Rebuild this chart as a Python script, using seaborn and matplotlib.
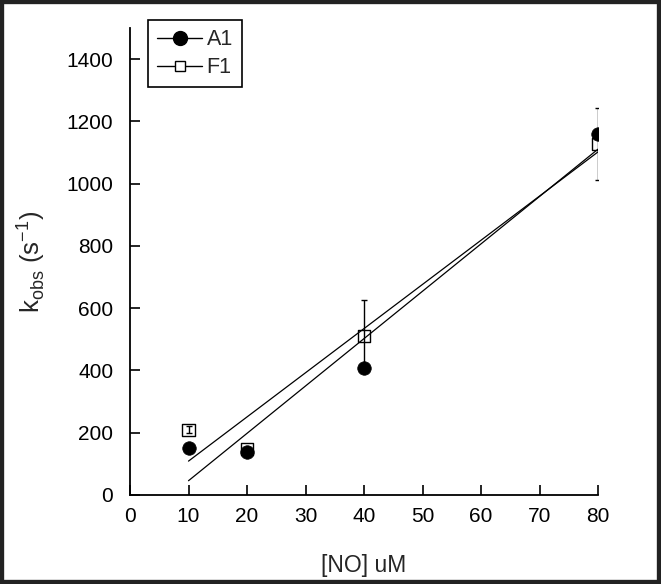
import numpy as np
import pandas as pd
import matplotlib
matplotlib.use("Agg")
import matplotlib.pyplot as plt
import seaborn as sns
from matplotlib.lines import Line2D
from matplotlib.patches import Rectangle

# Data
no_conc = [10, 20, 40, 80]
a1_kobs = [152, 137, 408, 1160]
f1_kobs = [210, 149, 510, 1127]
f1_err = [11, 0, 115, 115]
series_names = ["A1", "F1"]
x_ticks = [0, 10, 20, 30, 40, 50, 60, 70, 80]
y_ticks = [0, 200, 400, 600, 800, 1000, 1200, 1400]

sns.set_style("ticks")
plt.rcParams['font.family'] = ['Liberation Sans', 'DejaVu Sans']

df_a = pd.DataFrame({"x": no_conc, "y": a1_kobs})
df_f = pd.DataFrame({"x": no_conc, "y": f1_kobs})

fig = plt.figure(figsize=(6.61, 5.84), dpi=100)
ax = fig.add_axes([130/661, 1 - 495/584, (598-130)/661, (495-28)/584])

# regression lines
sns.regplot(data=df_a, x="x", y="y", scatter=False, ci=None, truncate=True,
            line_kws=dict(color="black", lw=0.9), ax=ax)
sns.regplot(data=df_f, x="x", y="y", scatter=False, ci=None, truncate=True,
            line_kws=dict(color="black", lw=0.9), ax=ax)

# F1 error bars and open squares
ax.errorbar(no_conc, f1_kobs, yerr=f1_err, fmt="none", ecolor="black",
            elinewidth=1.0, capsize=2.5, capthick=1.0, zorder=3)
sns.scatterplot(data=df_f, x="x", y="y", marker="s", s=75, facecolor="none",
                edgecolor="black", linewidth=1.0, ax=ax, zorder=4)
# A1 filled circles
sns.scatterplot(data=df_a, x="x", y="y", marker="o", s=95, color="black",
                edgecolor="black", linewidth=0.5, ax=ax, zorder=5)

ax.set_xlim(0, 80)
ax.set_ylim(0, 1500)
ax.set_xticks(x_ticks)
ax.set_yticks(y_ticks)
ax.tick_params(direction="in", length=7, width=1.2, labelsize=15, colors="black")
ax.tick_params(axis="x", pad=9)
ax.tick_params(axis="y", pad=12)
for s in ["top", "right"]:
    ax.spines[s].set_visible(False)
for s in ["left", "bottom"]:
    ax.spines[s].set_linewidth(1.3)
    ax.spines[s].set_color("black")

ax.set_xlabel("[NO] uM", fontsize=16.5, labelpad=20)
ax.set_ylabel(r"k$_{\mathregular{obs}}$ (s$^{\mathregular{-1}}$)", fontsize=18.5, labelpad=14)

handles = [
    Line2D([], [], color="black", lw=1.0, marker="o", markersize=10,
           markerfacecolor="black", markeredgecolor="black"),
    Line2D([], [], color="black", lw=1.0, marker="s", markersize=7.5,
           markerfacecolor="white", markeredgecolor="black"),
]
leg = ax.legend(handles, series_names, loc="upper left",
                bbox_to_anchor=(148/661, 1 - 20/584), bbox_transform=fig.transFigure,
                fontsize=15.5, frameon=True, fancybox=False, handlelength=2.1,
                handletextpad=0.2, borderpad=0.42, labelspacing=0.33, borderaxespad=0)
leg.get_frame().set_edgecolor("black")
leg.get_frame().set_linewidth(1.2)
leg.get_frame().set_alpha(1)

# dark figure frame
fig.patches.append(Rectangle((0, 0), 1, 1, transform=fig.transFigure, fill=False,
                             edgecolor="#222222", linewidth=6, zorder=10))

fig.savefig("out.png", dpi=100)
